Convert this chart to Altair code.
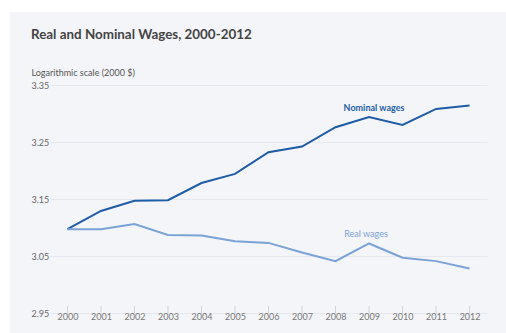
import altair as alt
import pandas as pd

years = [2000, 2001, 2002, 2003, 2004, 2005, 2006, 2007, 2008, 2009, 2010, 2011, 2012]
nominal = [3.097, 3.129, 3.147, 3.148, 3.178, 3.194, 3.232, 3.242, 3.276, 3.294, 3.280, 3.308, 3.314]
real = [3.097, 3.097, 3.106, 3.087, 3.086, 3.076, 3.073, 3.056, 3.041, 3.072, 3.047, 3.041, 3.028]
series_names = ["Nominal wages", "Real wages"]
series_colors = ["#1d5ca6", "#7aa2d6"]
y_ticks = [2.95, 3.05, 3.15, 3.25, 3.35]
label_year = [2009, 2009]
label_value = [3.310, 3.089]

W, H = 437, 228
FONT = "Lato"
BG = "#f4f5f9"

rows = []
for y, n, r in zip(years, nominal, real):
    rows.append({"year": str(y), "value": n, "series": series_names[0]})
    rows.append({"year": str(y), "value": r, "series": series_names[1]})
df = pd.DataFrame(rows)
labels_df = pd.DataFrame({"year": [str(v) for v in label_year], "value": label_value, "series": series_names})
ticks_df = pd.DataFrame({"year": [str(y) for y in years]})

xscale = alt.Scale(type="point", padding=0.52)
yscale = alt.Scale(domain=[2.95, 3.35], nice=False, zero=False)
cscale = alt.Scale(domain=series_names, range=series_colors)

x_enc = alt.X("year:O", scale=xscale, axis=alt.Axis(
    title=None, labelAngle=0, labelAlign="center", domain=False, ticks=False, grid=False,
    labelPadding=3, labelFontSize=9, labelColor="#777777", labelFont=FONT))

lines = alt.Chart(df).mark_line(strokeWidth=2).encode(
    x=x_enc,
    y=alt.Y("value:Q", scale=yscale, axis=alt.Axis(
        values=y_ticks, format=".2f", labelAlign="left", labelBaseline="middle",
        labelPadding=19, ticks=False, domain=False, grid=True,
        gridColor="#e5e8ee", gridWidth=1,
        labelFontSize=9, labelColor="#666666", labelFont=FONT,
        title="Logarithmic scale (2000 $)", titleAngle=0, titleAlign="left",
        titleBaseline="middle", titleX=-19, titleY=-13, titleFontSize=9,
        titleFontWeight="normal", titleColor="#555555", titleFont=FONT)),
    color=alt.Color("series:N", scale=cscale, legend=None),
)

ticks = alt.Chart(ticks_df).mark_rule(color="#cfd2d8", strokeWidth=1).encode(
    x=alt.X("year:O", scale=xscale),
    y=alt.value(H - 7),
    y2=alt.value(H),
)

texts_r = alt.Chart(labels_df).transform_filter(alt.datum.series == series_names[1]).mark_text(
    fontSize=9, font=FONT, fontWeight="normal", dx=-3).encode(
    x=alt.X("year:O", scale=xscale),
    y=alt.Y("value:Q", scale=yscale),
    text="series:N",
    color=alt.Color("series:N", scale=cscale, legend=None),
)
texts_n = alt.Chart(labels_df).transform_filter(alt.datum.series == series_names[0]).mark_text(
    fontSize=9, font=FONT, fontWeight="bold", dx=5).encode(
    x=alt.X("year:O", scale=xscale),
    y=alt.Y("value:Q", scale=yscale),
    text="series:N",
    color=alt.Color("series:N", scale=cscale, legend=None),
)

# white outer margins (page area outside the grey panel)
margin_left = alt.Chart(ticks_df.head(1)).mark_rect(color="white").encode(
    x=alt.value(-50), x2=alt.value(-40), y=alt.value(-85), y2=alt.value(H + 20))
margin_top = alt.Chart(ticks_df.head(1)).mark_rect(color="white").encode(
    x=alt.value(-50), x2=alt.value(W + 19), y=alt.value(-85), y2=alt.value(-73))

chart = alt.layer(margin_left, margin_top, ticks, lines, texts_n, texts_r).properties(
    width=W, height=H,
    autosize=alt.AutoSizeParams(type="none"),
    padding={"left": 50, "top": 85, "right": 19, "bottom": 20},
    background=BG,
    title=alt.TitleParams("Real and Nominal Wages, 2000-2012", anchor="start",
                          dx=31, fontSize=13.4, font=FONT, fontWeight="bold",
                          color="#444444", baseline="bottom", offset=-55),
).configure_view(stroke=None)

chart.save("out.html", embed_options={"renderer": "svg", "actions": False})
